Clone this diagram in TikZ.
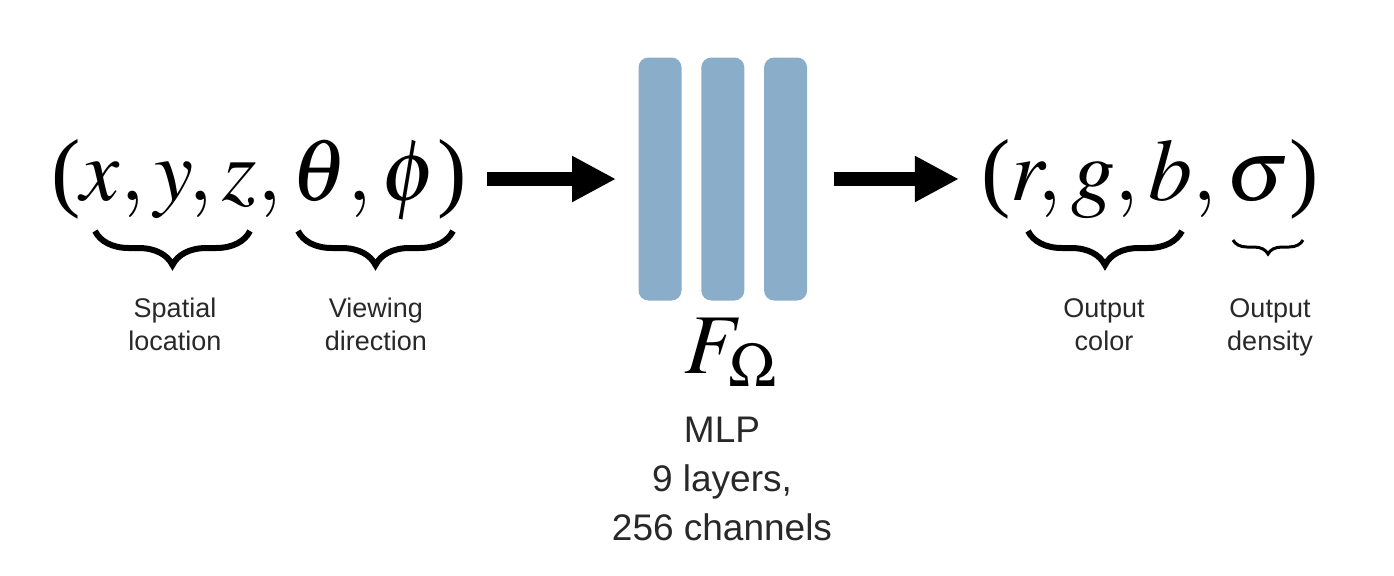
\documentclass[tikz,border=0pt]{standalone}
\usepackage{mathptmx}
\usepackage[no-math]{fontspec}
\setmainfont{Liberation Serif}
\setsansfont{Liberation Sans}
\usetikzlibrary{positioning,calc,arrows.meta,decorations.pathreplacing}
\definecolor{layerblue}{RGB}{138,174,202}
\definecolor{labelgray}{RGB}{40,40,40}
\newcommand{\tp}[1]{\mbox{#1}}

\begin{document}
\begin{tikzpicture}[x=0.5pt,y=-0.5pt,
    layer/.style={fill=layerblue, rounded corners=5pt, minimum width=21.5pt, minimum height=121.5pt, inner sep=0pt},
    bigmath/.style={inner sep=0pt, font=\fontsize{44}{54}\selectfont},
    lbl/.style={align=center, text=labelgray, font=\sffamily\fontsize{13.5}{16.5}\selectfont},
    flow/.style={line width=7pt, -{Triangle[length=22pt,width=21.5pt]}},
    bigbrace/.style={decorate, decoration={brace, amplitude=17pt}, line width=3pt},
    smallbrace/.style={decorate, decoration={brace, amplitude=7pt}, line width=1.5pt}]
    \useasboundingbox (0,0) rectangle (1394,575);

    % input and output tuples
    \node[bigmath, anchor=base] (in) at (259,200) {$\tp{(}x, y, z, \theta, \phi\tp{)}$};
    \node[bigmath, anchor=base] (out) at (1150,200) {$\tp{(}r, g, b, \sigma\tp{)}$};

    % MLP layers
    \node[layer] (l1) at (660,179) {};
    \node[layer, right=9.5pt of l1] (l2) {};
    \node[layer, right=9.5pt of l2] (l3) {};
    \node[font=\fontsize{42.5}{50}\selectfont, anchor=base] (fw) at (731,373) {$F_\Omega$};
    \node[font=\sffamily\fontsize{18.5}{24.5}\selectfont, text=labelgray, align=center, anchor=base] (mlp) at (722,540) {MLP\\9 layers,\\256 channels};

    \draw[flow, shorten <=10pt, shorten >=11pt] (in.east |- l1.west) -- (l1.west);
    \draw[flow, shorten <=13pt, shorten >=11pt] (l3.east) -- (out.west |- l3.east);

    % braces
    \draw[bigbrace] (250,231) -- (95,231);
    \draw[bigbrace] (453,231) -- (298,231);
    \draw[bigbrace] (1182,231) -- (1028,231);
    \draw[smallbrace] (1303,240) -- (1233,240);

    \node[lbl, anchor=base] (spatial) at (175,350) {Spatial\\location};
    \node[lbl, anchor=base] (viewing) at (376,350) {Viewing\\direction};
    \node[lbl, anchor=base] (color) at (1104,350) {Output\\color};
    \node[lbl, anchor=base] (density) at (1270,350) {Output\\density};
\end{tikzpicture}
\end{document}
